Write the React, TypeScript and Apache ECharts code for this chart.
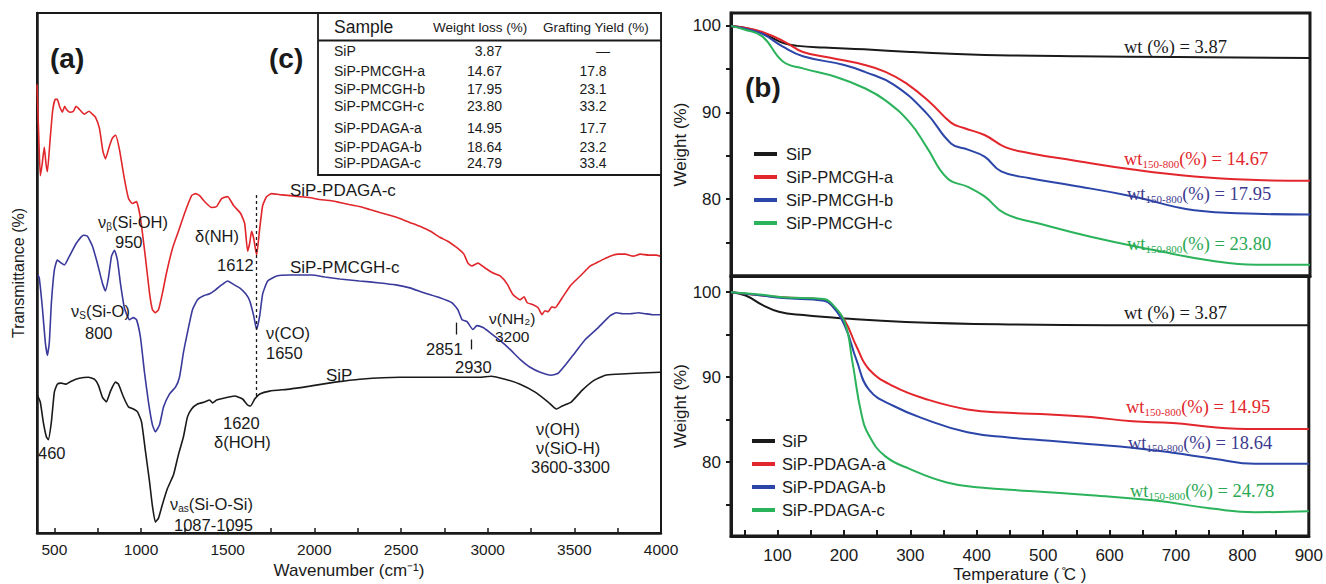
import React, { useEffect, useRef } from "react";
import * as echarts from "echarts";

const FONT = '"Liberation Sans", Arial, sans-serif';
const SERIF = '"Liberation Serif", "Times New Roman", serif';

// ---------- FTIR (a) : [wavenumber, relative transmittance (arb.)] ----------
const ftirPDAGAc: number[][] = [
  [400, 452], [410, 400], [419, 360], [430, 372], [442, 389], [452, 372], [460, 364], [475, 395], [490, 425], [505, 437],
  [517, 437], [530, 430], [546, 424], [560, 430], [569, 427], [590, 424], [610, 425], [625, 430], [644, 427], [660, 424],
  [673, 422], [700, 425], [720, 422], [737, 419], [760, 408], [780, 385], [795, 377], [818, 390], [835, 398], [853, 401],
  [875, 387], [904, 357], [928, 337], [951, 332], [974, 334], [997, 317], [1026, 277], [1049, 242], [1066, 225], [1083, 222],
  [1101, 225], [1124, 242], [1147, 262], [1182, 287], [1216, 304], [1251, 322], [1292, 340], [1315, 342], [1338, 340], [1367, 334],
  [1407, 328], [1436, 329], [1465, 337], [1500, 339], [1534, 330], [1575, 322], [1598, 312], [1615, 284], [1627, 292], [1638, 304],
  [1650, 297], [1667, 280], [1685, 307], [1702, 330], [1725, 339], [1754, 342], [1800, 341], [1860, 340], [1916, 339], [1970, 338],
  [2031, 336], [2090, 335], [2147, 333], [2200, 331], [2262, 329], [2320, 326], [2378, 323], [2440, 320], [2493, 317], [2550, 313],
  [2609, 309], [2670, 304], [2724, 298], [2770, 294], [2811, 289], [2840, 285], [2863, 281], [2886, 272], [2909, 269], [2944, 272],
  [2985, 267], [3031, 262], [3072, 259], [3112, 251], [3147, 240], [3187, 235], [3210, 238], [3228, 232], [3262, 230], [3291, 227],
  [3314, 220], [3330, 224], [3349, 223], [3370, 228], [3389, 227], [3430, 237], [3476, 249], [3534, 259], [3591, 269], [3637, 273],
  [3670, 276], [3707, 279], [3750, 281], [3794, 281], [3840, 279], [3880, 281], [3930, 280], [3972, 280], [3995, 279],
];

const ftirPMCGHc: number[][] = [
  [405, 260], [413, 257], [431, 227], [448, 192], [460, 179], [471, 192], [483, 232], [500, 265], [517, 275], [540, 272],
  [558, 270], [587, 279], [627, 292], [668, 300], [691, 299], [720, 289], [748, 272], [777, 252], [795, 244], [812, 257],
  [830, 279], [847, 285], [864, 275], [881, 252], [904, 227], [933, 215], [956, 217], [974, 215], [997, 197], [1020, 162],
  [1043, 132], [1066, 109], [1083, 102], [1107, 109], [1130, 127], [1164, 140], [1199, 147], [1222, 157], [1245, 182], [1268, 202],
  [1297, 225], [1326, 235], [1361, 239], [1396, 241], [1430, 245], [1465, 250], [1500, 254], [1529, 251], [1569, 247], [1604, 241],
  [1627, 234], [1650, 219], [1667, 205], [1685, 219], [1702, 241], [1731, 254], [1783, 259], [1858, 260], [1920, 260], [1985, 260],
  [2060, 258], [2147, 256], [2260, 254], [2378, 252], [2470, 250], [2551, 247], [2632, 242], [2724, 237], [2794, 232], [2828, 225],
  [2852, 215], [2881, 213], [2915, 205], [2938, 209], [2973, 207], [3013, 202], [3071, 194], [3129, 185], [3187, 175], [3245, 167],
  [3303, 162], [3367, 159], [3407, 161], [3447, 169], [3505, 182], [3563, 195], [3638, 207], [3707, 219], [3742, 222], [3780, 221],
  [3823, 221], [3870, 222], [3909, 221], [3950, 220], [3995, 220],
];

const ftirSiP: number[][] = [
  [402, 139], [419, 132], [436, 112], [454, 97], [465, 94], [483, 112], [500, 142], [517, 150], [540, 151], [569, 150],
  [598, 153], [644, 156], [697, 157], [731, 155], [754, 149], [777, 137], [800, 132], [824, 143], [853, 152], [870, 150],
  [899, 137], [928, 127], [956, 125], [980, 122], [1003, 112], [1026, 82], [1049, 52], [1066, 27], [1083, 11], [1101, 15],
  [1124, 29], [1153, 45], [1188, 59], [1216, 79], [1245, 97], [1268, 117], [1292, 125], [1326, 130], [1367, 132], [1396, 134],
  [1413, 131], [1436, 134], [1482, 136], [1540, 138], [1586, 135], [1615, 129], [1632, 128], [1656, 135], [1685, 140], [1742, 143],
  [1858, 145], [1974, 148], [2119, 152], [2263, 155], [2494, 157], [2783, 157], [2956, 157], [3020, 158], [3100, 155], [3187, 150],
  [3274, 142], [3349, 132], [3396, 125], [3430, 128], [3482, 132], [3546, 144], [3616, 154], [3679, 159], [3742, 160], [3852, 161],
  [3995, 162],
];

const ftirLabelTicks = [500, 1000, 1500, 2000, 2500, 3000, 3500, 4000];
const ftirMinorTicks = [500, 750, 1000, 1250, 1500, 1750, 2000, 2250, 2500, 2750, 3000, 3250, 3500, 3750];

// ---------- TGA (b) : [temperature °C, weight %] ----------
const pmcghSiP = [[30, 100], [50, 99.8], [70, 99.4], [90, 98.7], [110, 98.0], [130, 97.7], [170, 97.5], [230, 97.3], [300, 97.0], [360, 96.8], [450, 96.6], [550, 96.5], [700, 96.4], [900, 96.3]];
const pmcghA = [[30, 100], [50, 99.8], [77, 99.3], [110, 98.2], [138, 97.0], [181, 96.3], [231, 95.5], [262, 94.7], [293, 93.4], [330, 91.1], [361, 88.8], [380, 88.2], [411, 87.4], [442, 86.0], [479, 85.3], [541, 84.5], [634, 83.4], [726, 82.6], [819, 82.2], [900, 82.1]];
const pmcghB = [[30, 100], [50, 99.7], [77, 99.1], [108, 97.6], [138, 96.5], [200, 95.5], [231, 94.7], [275, 93.2], [324, 89.9], [361, 86.4], [386, 85.7], [411, 84.9], [436, 83.2], [479, 82.4], [541, 81.6], [634, 80.3], [726, 78.7], [819, 78.3], [900, 78.2]];
const pmcghC = [[30, 100], [50, 99.6], [77, 98.8], [108, 95.9], [138, 95.1], [188, 94.1], [231, 92.8], [262, 91.4], [299, 88.8], [324, 86.0], [355, 82.4], [386, 81.4], [411, 80.3], [442, 78.3], [491, 77.2], [572, 75.6], [665, 74.1], [757, 72.8], [819, 72.4], [900, 72.4]];

const pdagaSiP = [[30, 100], [52, 99.6], [77, 98.5], [102, 97.7], [139, 97.3], [201, 96.9], [293, 96.5], [448, 96.2], [600, 96.1], [900, 96.1]];
const pdagaA = [[30, 100], [77, 99.6], [108, 99.4], [170, 99.1], [181, 98.5], [201, 96.7], [219, 93.6], [238, 90.9], [275, 88.9], [324, 87.4], [386, 86.2], [448, 85.8], [510, 85.6], [572, 85.3], [634, 84.8], [695, 84.6], [757, 84.1], [819, 83.9], [900, 83.9]];
const pdagaB = [[30, 100], [77, 99.6], [108, 99.3], [170, 99.0], [181, 98.5], [201, 96.1], [219, 92.0], [238, 88.5], [275, 86.6], [324, 85.0], [386, 83.5], [448, 82.9], [510, 82.5], [572, 82.1], [634, 81.7], [695, 81.1], [757, 80.4], [819, 79.8], [900, 79.8]];
const pdagaC = [[30, 100], [77, 99.7], [108, 99.4], [170, 99.2], [181, 98.7], [201, 96.5], [213, 91.7], [226, 85.8], [238, 83.1], [262, 80.7], [299, 79.2], [355, 77.6], [405, 77.0], [479, 76.6], [572, 76.1], [665, 75.5], [757, 74.5], [819, 74.1], [900, 74.2]];

const tgaLabelTicks = [100, 200, 300, 400, 500, 600, 700, 800, 900];
const tgaMinorTicks = [50, 100, 150, 200, 250, 300, 350, 400, 450, 500, 550, 600, 650, 700, 750, 800, 850, 900];
const weightLabels = [80, 90, 100];
const weightTicks = [75, 80, 85, 90, 95, 100];

// ---------- Table (c) ----------
const tableSamples = ["SiP", "SiP-PMCGH-a", "SiP-PMCGH-b", "SiP-PMCGH-c", "SiP-PDAGA-a", "SiP-PDAGA-b", "SiP-PDAGA-c"];
const tableWeightLoss = ["3.87", "14.67", "17.95", "23.80", "14.95", "18.64", "24.79"];
const tableYield = ["—", "17.8", "23.1", "33.2", "17.7", "23.2", "33.4"];
const tableRowY = [51, 71, 89, 106, 128, 147, 163];

const C_RED = "#e2262c";
const C_BLUE = "#2b45a8";
const C_GREEN = "#2bb35b";
const C_BLACK = "#1a1a1a";
const F_RED = "#e0262b";
const F_BLUE = "#3a3a9c";

function txt(text: string, x: number, y: number, size = 16.5, extra: any = {}) {
  return {
    type: "text",
    x,
    y,
    z: 100,
    style: {
      text,
      fontSize: size,
      fontFamily: FONT,
      fill: C_BLACK,
      align: "left",
      verticalAlign: "middle",
      ...extra,
    },
  };
}

function richSub(main1: string, sub: string, main2: string, x: number, y: number, size = 16.5, color = C_BLACK, family = FONT, subSize = 10) {
  return {
    type: "text",
    x,
    y,
    z: 100,
    style: {
      text: `{m|${main1}}{s|${sub}}{m|${main2}}`,
      align: "left",
      verticalAlign: "middle",
      rich: {
        m: { fontSize: size, fontFamily: family, fill: color, color, lineHeight: size + 2 },
        s: { fontSize: subSize, fontFamily: family, fill: color, color, lineHeight: subSize, verticalAlign: "bottom" },
      },
    },
  };
}

function wtLabel(value: string, x: number, y: number, color: string) {
  return richSub("wt", "150-800", `(%) = ${value}`, x, y, 18.5, color, SERIF, 11);
}

const plainNum = (v: number) => String(v);

export default function App() {
  const ref = useRef<HTMLDivElement>(null);

  useEffect(() => {
    const chart = echarts.init(ref.current!, null, { renderer: "svg" });

    const ftirLine = (name: string, data: number[][], color: string, extra: any = {}) => ({
      name,
      type: "line",
      xAxisIndex: 0,
      yAxisIndex: 0,
      data,
      showSymbol: false,
      smooth: 0.15,
      lineStyle: { color, width: 1.6 },
      itemStyle: { color },
      z: 3,
      ...extra,
    });

    const tgaLine = (name: string, data: number[][], color: string, idx: number) => ({
      name,
      type: "line",
      xAxisIndex: idx,
      yAxisIndex: idx,
      data,
      showSymbol: false,
      smooth: 0.45,
      lineStyle: { color, width: 2 },
      itemStyle: { color },
      z: 3,
    });

    const axisTextStyle = { fontFamily: FONT, color: C_BLACK };

    const tgaY = (idx: number, min: number, max: number) => ({
      type: "value",
      gridIndex: idx,
      min,
      max,
      name: "Weight (%)",
      nameLocation: "middle",
      nameGap: 34,
      nameTextStyle: { ...axisTextStyle, fontSize: 17 },
      axisLine: { show: true, lineStyle: { color: C_BLACK, width: 3 } },
      axisTick: { show: true, inside: false, length: 5, customValues: weightTicks, lineStyle: { color: C_BLACK, width: 2 } },
      axisLabel: { show: true, customValues: weightLabels, formatter: plainNum, fontSize: 17, margin: 10, ...axisTextStyle },
      splitLine: { show: false },
    });

    const graphics: any[] = [];
    // panel letters
    graphics.push(txt("(a)", 50, 58, 28, { fontWeight: "bold" }));
    graphics.push(txt("(c)", 269, 58, 28, { fontWeight: "bold" }));
    graphics.push(txt("(b)", 745, 87, 28, { fontWeight: "bold" }));

    // FTIR annotations
    graphics.push(txt("SiP-PDAGA-c", 290, 190, 17));
    graphics.push(txt("SiP-PMCGH-c", 290, 267, 17));
    graphics.push(txt("SiP", 326, 375, 17));
    graphics.push(richSub("ν", "β", "(Si-OH)", 98, 222));
    graphics.push(txt("950", 115, 242));
    graphics.push(txt("δ(NH)", 195, 236));
    graphics.push(txt("1612", 217, 265));
    graphics.push(richSub("ν", "S", "(Si-O)", 71, 311));
    graphics.push(txt("800", 85, 333));
    graphics.push(txt("ν(CO)", 266, 333));
    graphics.push(txt("1650", 266, 353));
    graphics.push(txt("2851", 426, 349));
    graphics.push(txt("2930", 455, 367));
    graphics.push(txt("ν(NH₂)", 489, 318, 15.5));
    graphics.push(txt("3200", 495, 336, 15.5));
    graphics.push(txt("1620", 223, 423));
    graphics.push(txt("δ(HOH)", 214, 442));
    graphics.push(txt("460", 38, 453));
    graphics.push(richSub("ν", "as", "(Si-O-Si)", 170, 504));
    graphics.push(txt("1087-1095", 174, 525));
    graphics.push(txt("ν(OH)", 536, 429));
    graphics.push(txt("ν(SiO-H)", 536, 448));
    graphics.push(txt("3600-3300", 531, 467));

    // TGA annotations
    graphics.push(txt("wt (%) = 3.87", 1124, 47, 18.5, { fontFamily: SERIF }));
    graphics.push(wtLabel("14.67", 1124, 159, C_RED));
    graphics.push(wtLabel("17.95", 1127, 194, "#3d3a90"));
    graphics.push(wtLabel("23.80", 1127, 244, "#2aa852"));
    graphics.push(txt("wt (%) = 3.87", 1124, 313, 18.5, { fontFamily: SERIF }));
    graphics.push(wtLabel("14.95", 1126, 407, C_RED));
    graphics.push(wtLabel("18.64", 1128, 443, "#3d3a90"));
    graphics.push(wtLabel("24.78", 1130, 491, "#2aa852"));

    // Table (c)
    graphics.push({ type: "rect", z: 90, shape: { x: 318, y: 13, width: 343, height: 162 }, style: { fill: "#fff", stroke: C_BLACK, lineWidth: 1.8 } });
    graphics.push({ type: "line", z: 91, shape: { x1: 318, y1: 40.5, x2: 661, y2: 40.5 }, style: { stroke: C_BLACK, lineWidth: 2 } });
    graphics.push(txt("Sample", 334, 27, 17.5));
    graphics.push(txt("Weight loss (%)", 433, 27, 13.5));
    graphics.push(txt("Grafting Yield (%)", 543, 27, 13.5));
    tableSamples.forEach((s, i) => {
      graphics.push(txt(s, 334, tableRowY[i], 14));
      graphics.push(txt(tableWeightLoss[i], 502, tableRowY[i], 14, { align: "right" }));
      graphics.push(txt(tableYield[i], i === 0 ? 603 : 593, tableRowY[i], 14, { align: "center" }));
    });

    const option: any = {
      animation: false,
      backgroundColor: "#fff",
      grid: [
        { left: 37, top: 13, width: 624, height: 524, show: true, borderColor: C_BLACK, borderWidth: 2, backgroundColor: "transparent" },
        { left: 731, top: 13, width: 579, height: 263, show: true, borderColor: C_BLACK, borderWidth: 3, backgroundColor: "transparent" },
        { left: 731, top: 276, width: 579, height: 261, show: true, borderColor: C_BLACK, borderWidth: 3, backgroundColor: "transparent" },
      ],
      xAxis: [
        {
          type: "value",
          gridIndex: 0,
          min: 400,
          max: 4000,
          name: "Wavenumber (cm⁻¹)",
          nameLocation: "middle",
          nameGap: 29,
          nameTextStyle: { ...axisTextStyle, fontSize: 17 },
          axisLine: { show: true, lineStyle: { color: C_BLACK, width: 2.5 } },
          axisTick: { show: true, inside: true, length: 5, customValues: ftirMinorTicks, lineStyle: { color: C_BLACK, width: 1.5 } },
          axisLabel: { show: true, customValues: ftirLabelTicks, formatter: plainNum, fontSize: 15.5, margin: 8, ...axisTextStyle },
          splitLine: { show: false },
        },
        {
          type: "value",
          gridIndex: 1,
          min: 30,
          max: 900,
          axisLine: { show: true, lineStyle: { color: C_BLACK, width: 3 } },
          axisTick: { show: false },
          axisLabel: { show: false },
          splitLine: { show: false },
        },
        {
          type: "value",
          gridIndex: 2,
          min: 30,
          max: 900,
          name: "Temperature ( ̊C )",
          nameLocation: "middle",
          nameGap: 30,
          nameTextStyle: { ...axisTextStyle, fontSize: 17 },
          axisLine: { show: true, lineStyle: { color: C_BLACK, width: 3 } },
          axisTick: { show: true, inside: true, length: 6, customValues: tgaMinorTicks, lineStyle: { color: C_BLACK, width: 2 } },
          axisLabel: { show: true, customValues: tgaLabelTicks, formatter: plainNum, fontSize: 17, margin: 11, ...axisTextStyle },
          splitLine: { show: false },
        },
      ],
      yAxis: [
        {
          type: "value",
          gridIndex: 0,
          min: 0,
          max: 524,
          name: "Transmittance (%)",
          nameLocation: "middle",
          nameGap: 11,
          nameTextStyle: { ...axisTextStyle, fontSize: 16 },
          axisLine: { show: true, lineStyle: { color: C_BLACK, width: 2.5 } },
          axisTick: { show: false },
          axisLabel: { show: false },
          splitLine: { show: false },
        },
        tgaY(1, 71.1, 101.5),
        tgaY(2, 71.3, 101.9),
      ],
      legend: [
        {
          data: ["SiP", "SiP-PMCGH-a", "SiP-PMCGH-b", "SiP-PMCGH-c"],
          orient: "vertical",
          left: 749,
          top: 139,
          icon: "rect",
          itemWidth: 23,
          itemHeight: 4,
          itemGap: 3,
          selectedMode: false,
          textStyle: { fontFamily: FONT, fontSize: 16.5, color: C_BLACK, lineHeight: 20, padding: [0, 0, 0, 4] },
        },
        {
          data: ["SiP", "SiP-PDAGA-a", "SiP-PDAGA-b", "SiP-PDAGA-c"],
          orient: "vertical",
          left: 747,
          top: 426,
          icon: "rect",
          itemWidth: 23,
          itemHeight: 4,
          itemGap: 3,
          selectedMode: false,
          textStyle: { fontFamily: FONT, fontSize: 16.5, color: C_BLACK, lineHeight: 20, padding: [0, 0, 0, 2] },
        },
      ],
      series: [
        ftirLine("FTIR SiP-PDAGA-c", ftirPDAGAc, F_RED),
        ftirLine("FTIR SiP-PMCGH-c", ftirPMCGHc, F_BLUE, {
          markLine: {
            silent: true,
            symbol: ["none", "none"],
            label: { show: false },
            lineStyle: { color: C_BLACK, width: 1.3, type: "solid" },
            data: [
              [{ coord: [2820, 212] }, { coord: [2820, 200] }],
              [{ coord: [2903, 195] }, { coord: [2903, 185] }],
            ],
          },
        }),
        ftirLine("FTIR SiP", ftirSiP, C_BLACK, {
          markLine: {
            silent: true,
            symbol: ["none", "none"],
            label: { show: false },
            lineStyle: { color: C_BLACK, width: 1.3, type: [3, 3] },
            data: [[{ coord: [1665, 138] }, { coord: [1665, 342] }]],
          },
        }),
        tgaLine("SiP", pmcghSiP, C_BLACK, 1),
        tgaLine("SiP-PMCGH-a", pmcghA, C_RED, 1),
        tgaLine("SiP-PMCGH-b", pmcghB, C_BLUE, 1),
        tgaLine("SiP-PMCGH-c", pmcghC, C_GREEN, 1),
        tgaLine("SiP", pdagaSiP, C_BLACK, 2),
        tgaLine("SiP-PDAGA-a", pdagaA, C_RED, 2),
        tgaLine("SiP-PDAGA-b", pdagaB, C_BLUE, 2),
        tgaLine("SiP-PDAGA-c", pdagaC, C_GREEN, 2),
      ],
      graphic: graphics,
    };

    chart.setOption(option);
    return () => chart.dispose();
  }, []);

  return (
    <div
      ref={ref}
      style={{ position: "fixed", left: 0, top: 0, width: 1326, height: 584, background: "#fff" }}
    />
  );
}
